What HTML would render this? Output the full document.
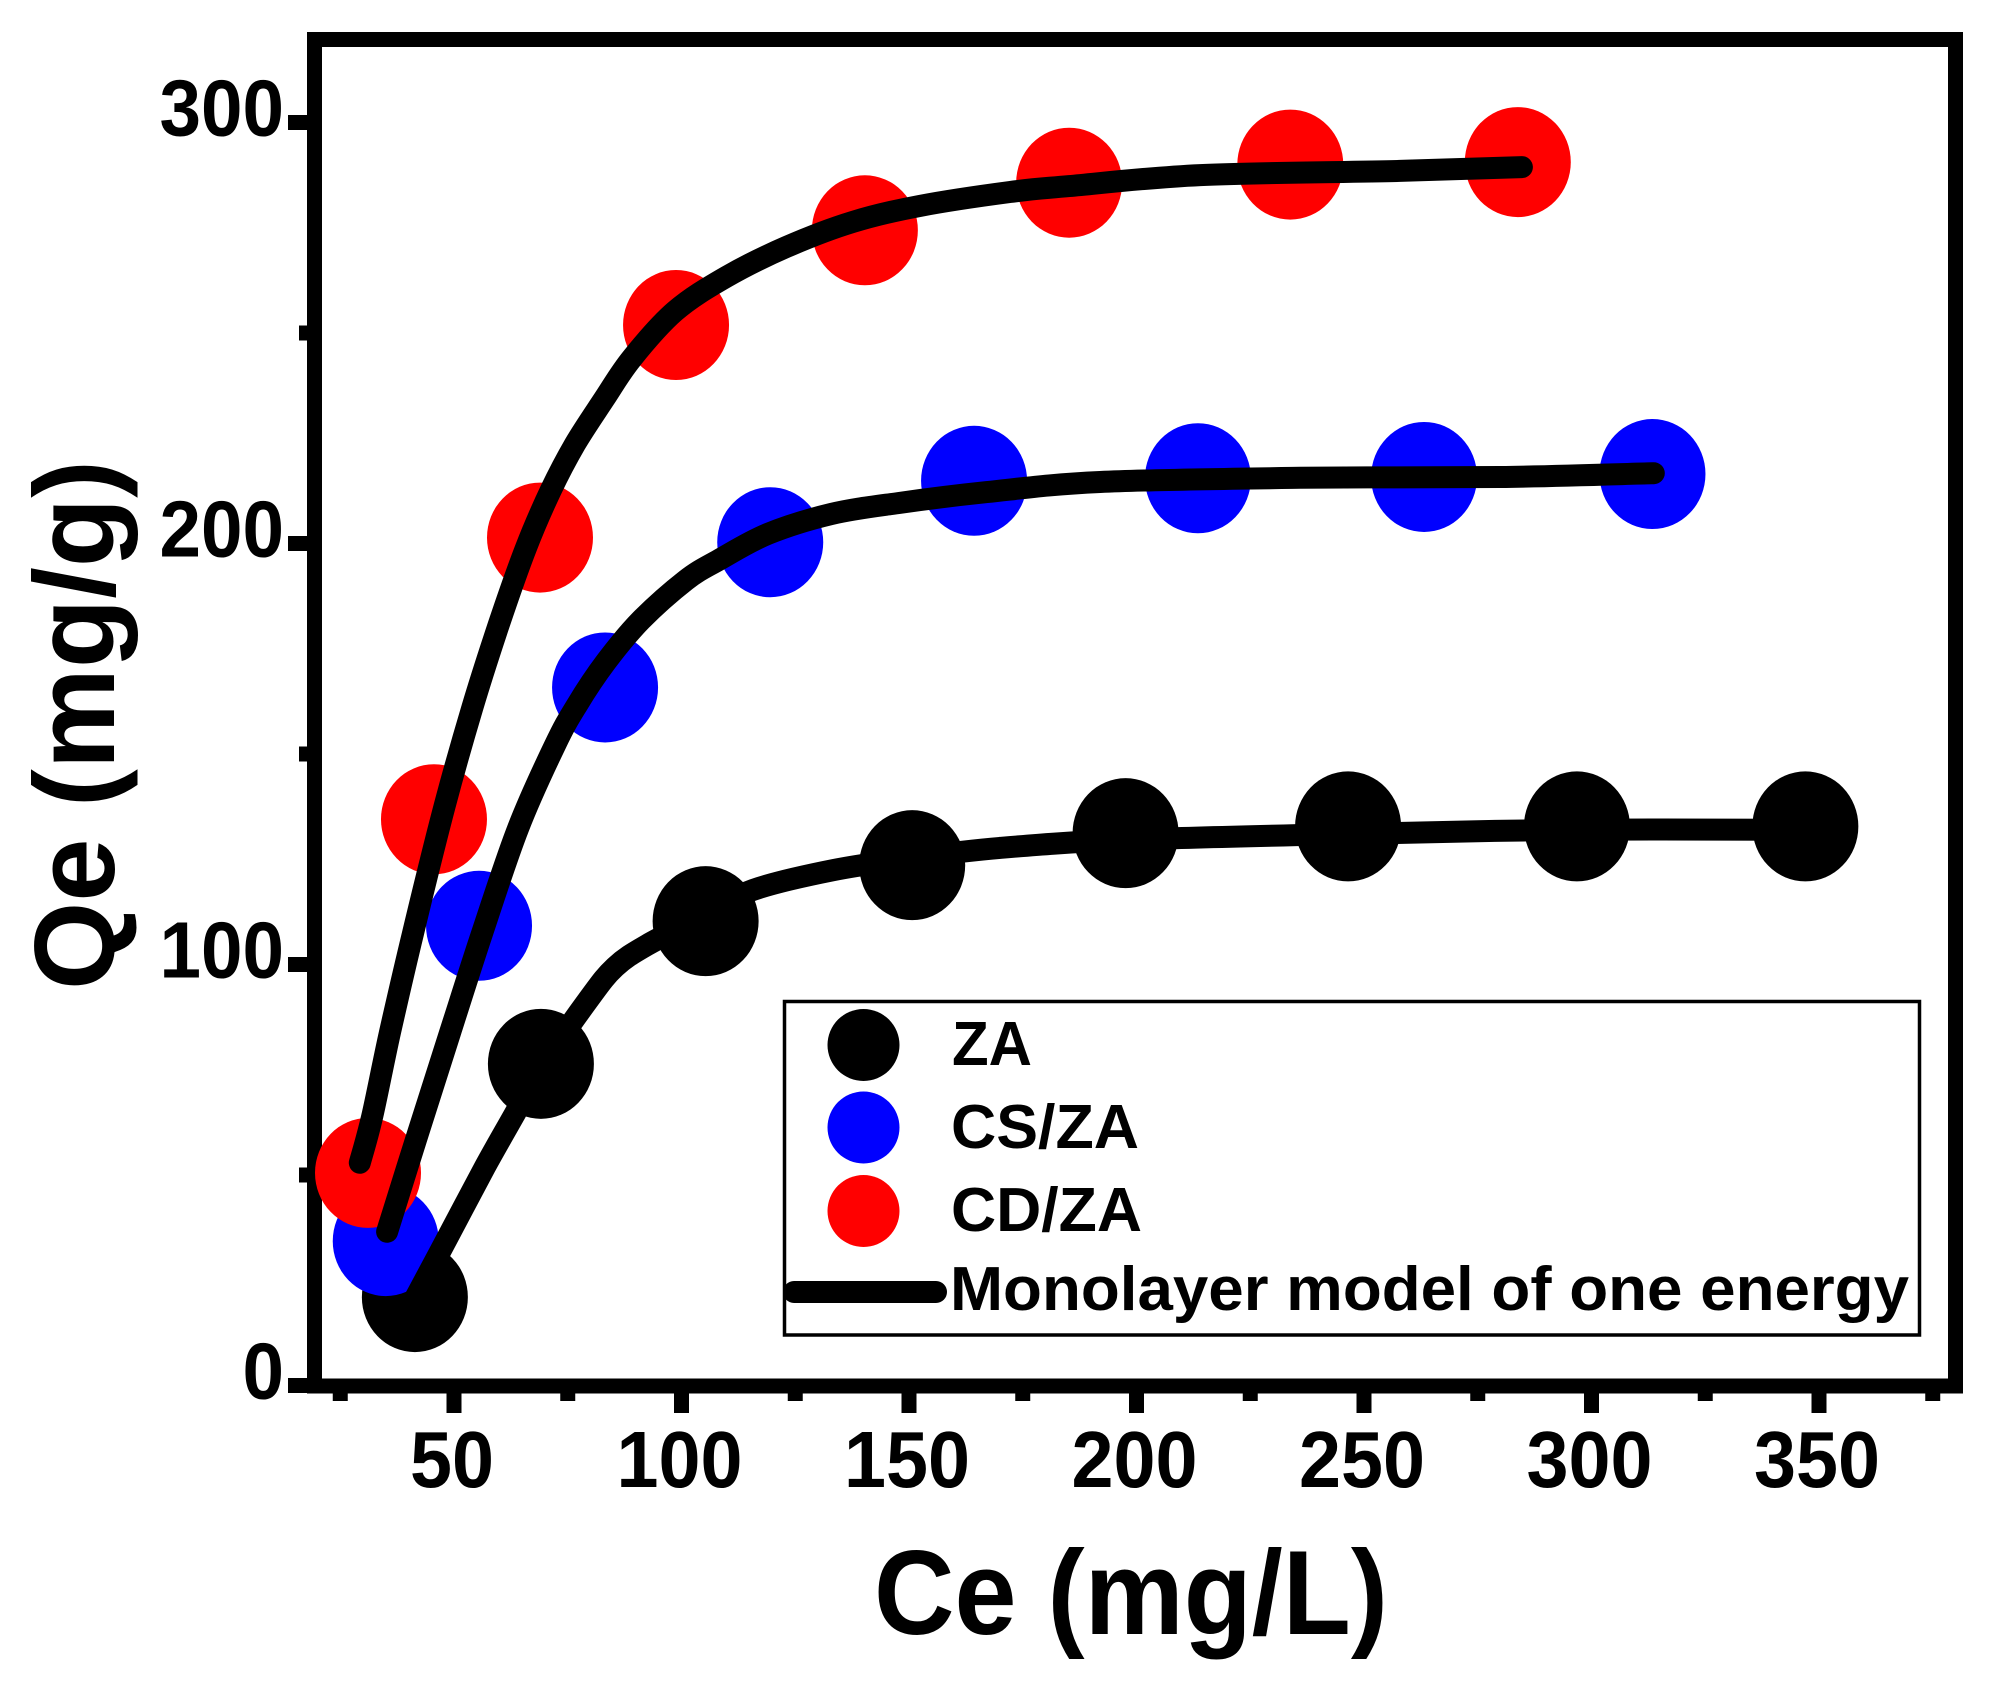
<!DOCTYPE html>
<html>
<head>
<meta charset="utf-8">
<title>Qe vs Ce adsorption isotherm</title>
<style>
html,body{margin:0;padding:0;background:#fff;}
svg{display:block;}
text{font-family:"Liberation Sans",sans-serif;font-weight:bold;fill:#000;}
</style>
</head>
<body>
<svg id="chart" xmlns="http://www.w3.org/2000/svg" width="2015" height="1682" viewBox="0 0 2015 1682">
  <rect x="0" y="0" width="2015" height="1682" fill="#fff"/>
  <rect x="314.5" y="39.5" width="1641" height="1346.5" fill="none" stroke="#000" stroke-width="15"/>
  <g id="ticks"></g>
  <g id="marks"></g>
  <text x="874" y="1634" font-size="120" textLength="514" lengthAdjust="spacingAndGlyphs">Ce (mg/L)</text>
  <text transform="translate(114 990) rotate(-90)" x="0" y="0" font-size="114" textLength="530" lengthAdjust="spacingAndGlyphs">Qe (mg/g)</text>
  <g>
    <rect x="784.5" y="1001.5" width="1135" height="333.5" fill="none" stroke="#000" stroke-width="3.5"/>
    <ellipse cx="863.5" cy="1045" rx="36" ry="36" fill="#000"/>
    <ellipse cx="863.5" cy="1127.5" rx="36" ry="36" fill="#0000ff"/>
    <ellipse cx="863.5" cy="1211" rx="36" ry="36" fill="#ff0000"/>
    <line x1="794" y1="1292" x2="936" y2="1292" stroke="#000" stroke-width="22" stroke-linecap="round"/>
    <text x="952" y="1065" font-size="62" textLength="80" lengthAdjust="spacingAndGlyphs">ZA</text>
    <text x="951" y="1148" font-size="62" textLength="188" lengthAdjust="spacingAndGlyphs">CS/ZA</text>
    <text x="951" y="1231" font-size="62" textLength="191" lengthAdjust="spacingAndGlyphs">CD/ZA</text>
    <text x="950" y="1310" font-size="62" textLength="959" lengthAdjust="spacingAndGlyphs">Monolayer model of one energy</text>
  </g>
</svg>
<script>
var xMajorTicks = [50, 100, 150, 200, 250, 300, 350];
var xMinorTicks = [25, 75, 125, 175, 225, 275, 325, 375];
var yMajorTicks = [0, 100, 200, 300];
var yMinorTicks = [50, 150, 250];

var zaX = [41.4, 69.1, 105.3, 150.7, 197.6, 246.5, 296.8, 347];
var zaY = [21, 76.4, 110.3, 123.6, 131.2, 132.8, 132.8, 132.8];
var csX = [35, 55.5, 83.2, 119.5, 164.3, 213.5, 263.2, 313.4];
var csY = [34.3, 109.2, 165.8, 200.3, 214.9, 215.5, 215.8, 216.5];
var cdX = [31.1, 45.6, 68.9, 98.8, 140.3, 185.2, 233.8, 283.8];
var cdY = [50.5, 134.5, 201.4, 251.9, 274.4, 285.7, 290, 290.6];

var zaFitX = [41.6, 49.1, 56.8, 63, 69.1, 79.5, 85.4, 92.4, 105.2, 115.7, 133.3, 150.7, 170, 197.5, 246.5, 296.8, 347];
var zaFitY = [21, 36.2, 51.9, 63.8, 75.4, 91.6, 99.4, 104.6, 111.8, 117.7, 122.4, 125.3, 127.7, 129.6, 131, 132, 132];
var csFitX = [35.3, 42.1, 49.1, 56.2, 64.1, 72.2, 77, 83.4, 91.1, 101, 108.2, 119, 132.9, 147.6, 167.1, 192, 236, 279.9, 313.7];
var csFitY = [36.5, 60, 83.7, 107.5, 132.4, 152.1, 161.6, 171.9, 181.8, 191.3, 196.1, 202.3, 207, 209.6, 212.2, 214.6, 215.6, 215.8, 216.7];
var cdFitX = [29.3, 32, 35.9, 41, 48, 54, 59.9, 65.8, 71.3, 76.6, 83, 89.1, 98.6, 109.8, 123, 137.7, 152.4, 172.2, 185.2, 214, 257.9, 284.7];
var cdFitY = [52.9, 63.8, 83.7, 107.5, 137.9, 160.9, 180.9, 198.9, 212.7, 223.6, 234.3, 244, 255.2, 263.3, 270.4, 276.4, 280.2, 283.5, 284.9, 287.5, 288.5, 289.4];

var NS = 'http://www.w3.org/2000/svg';
function xPos(v) { return 454 + (v - 50) * 4.55; }
function yPos(v) { return 1385.5 - v * 4.21; }
var ticksLayer = document.getElementById('ticks');
var marksLayer = document.getElementById('marks');

function drawTick(x1, y1, x2, y2, el) {
  el.setAttribute('x1', x1);
  el.setAttribute('y1', y1);
  el.setAttribute('x2', x2);
  el.setAttribute('y2', y2);
  el.setAttribute('stroke', '#000');
  el.setAttribute('stroke-width', 15);
  ticksLayer.appendChild(el);
}

xMajorTicks.forEach(function (v) {
  var t = document.createElementNS(NS, 'line');
  
  
  drawTick(xPos(v), 1390, xPos(v), 1413, t);
  var lab = document.createElementNS(NS, 'text');
  
  
  var w = String(v).length * 42;
  lab.setAttribute('x', xPos(v) - 2 - w / 2);
  lab.setAttribute('y', 1487);
  lab.setAttribute('font-size', 80);
  lab.setAttribute('textLength', w);
  lab.setAttribute('lengthAdjust', 'spacingAndGlyphs');
  lab.textContent = String(v);
  ticksLayer.appendChild(lab);
});
xMinorTicks.forEach(function (v) {
  var t = document.createElementNS(NS, 'line');
  
  
  drawTick(xPos(v), 1390, xPos(v), 1401, t);
});
yMajorTicks.forEach(function (v) {
  var t = document.createElementNS(NS, 'line');
  
  
  drawTick(288, yPos(v), 310, yPos(v), t);
  var lab = document.createElementNS(NS, 'text');
  
  
  var w = String(v).length * 41.5;
  lab.setAttribute('x', 284 - w);
  lab.setAttribute('y', yPos(v) + 13);
  lab.setAttribute('font-size', 80);
  lab.setAttribute('textLength', w);
  lab.setAttribute('lengthAdjust', 'spacingAndGlyphs');
  lab.textContent = String(v);
  ticksLayer.appendChild(lab);
});
yMinorTicks.forEach(function (v) {
  var t = document.createElementNS(NS, 'line');
  
  
  drawTick(299, yPos(v), 310, yPos(v), t);
});

function drawPoints(xs, ys, color, name) {
  xs.forEach(function (v, i) {
    var c = document.createElementNS(NS, 'ellipse');
    
    
    c.setAttribute('cx', xPos(v));
    c.setAttribute('cy', yPos(ys[i]));
    c.setAttribute('rx', 53);
    c.setAttribute('ry', 55);
    c.setAttribute('fill', color);
    marksLayer.appendChild(c);
  });
}
function drawFit(xs, ys, name) {
  var pts = xs.map(function (v, i) { return [xPos(v), yPos(ys[i])]; });
  var d = 'M' + pts[0][0].toFixed(1) + ' ' + pts[0][1].toFixed(1);
  for (var i = 0; i < pts.length - 1; i++) {
    var a = pts[Math.max(i - 1, 0)], b = pts[i], c = pts[i + 1], e = pts[Math.min(i + 2, pts.length - 1)];
    var c1x = b[0] + (c[0] - a[0]) / 6, c1y = b[1] + (c[1] - a[1]) / 6;
    var c2x = c[0] - (e[0] - b[0]) / 6, c2y = c[1] - (e[1] - b[1]) / 6;
    d += ' C' + c1x.toFixed(1) + ' ' + c1y.toFixed(1) + ' ' + c2x.toFixed(1) + ' ' + c2y.toFixed(1) + ' ' + c[0].toFixed(1) + ' ' + c[1].toFixed(1);
  }
  var p = document.createElementNS(NS, 'path');
  
  
  p.setAttribute('d', d);
  p.setAttribute('fill', 'none');
  p.setAttribute('stroke', '#000');
  p.setAttribute('stroke-width', 22);
  p.setAttribute('stroke-linecap', 'round');
  p.setAttribute('stroke-linejoin', 'round');
  marksLayer.appendChild(p);
}

drawPoints(zaX, zaY, '#000000', 'za-point');
drawPoints(csX, csY, '#0000ff', 'cs-za-point');
drawPoints(cdX, cdY, '#ff0000', 'cd-za-point');
drawFit(zaFitX, zaFitY, 'za-model-line');
drawFit(csFitX, csFitY, 'cs-za-model-line');
drawFit(cdFitX, cdFitY, 'cd-za-model-line');
</script>
</body>
</html>
